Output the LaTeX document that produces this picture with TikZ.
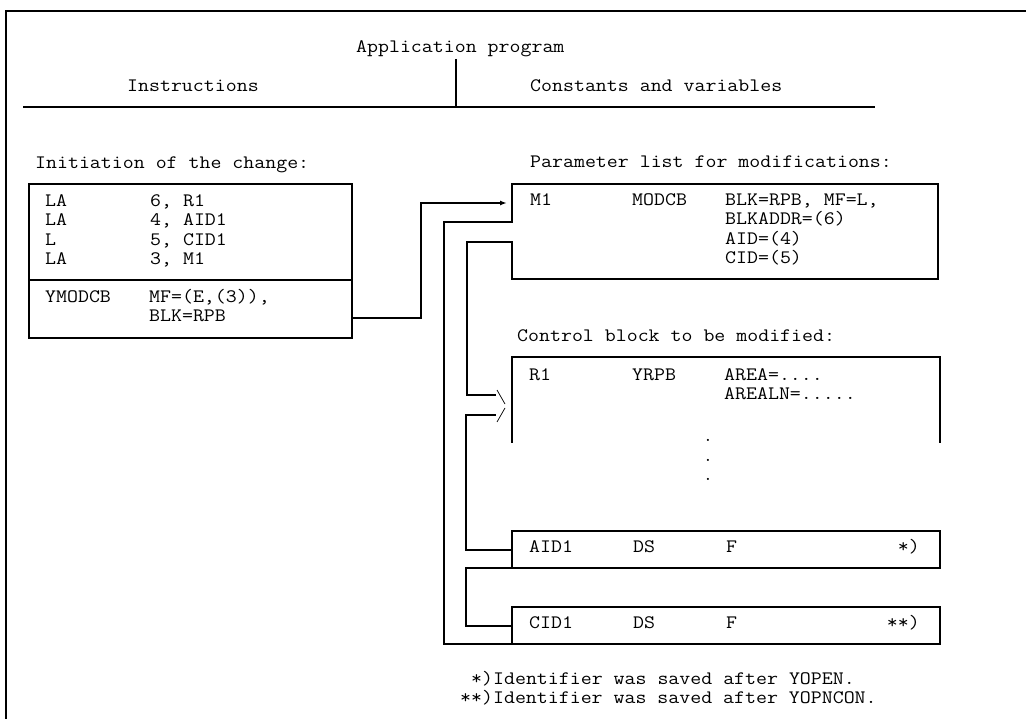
\documentclass[tikz,border=0pt]{standalone}
\usepackage{fontspec}
\usepackage{graphicx}
\usetikzlibrary{arrows.meta}
% typewriter text, widened to a Courier-like pitch
\newcommand\cw[1]{\scalebox{1.12}[1]{#1}}
\tikzset{
  rule/.style={line width=1.6pt},
  boxline/.style={line width=1.5pt, line cap=rect},
  wire/.style={line width=1.5pt, line cap=rect},
  hair/.style={line width=0.7pt},
  mono/.style={inner sep=0pt, anchor=mid west, font=\ttfamily\fontsize{19}{19}\selectfont},
  monor/.style={mono, anchor=mid east},
  dotmark/.style={mono, anchor=base},
}
\begin{document}
\begin{tikzpicture}[x=1pt,y=-1pt]
\useasboundingbox (0,0) rectangle (1026,719);

% outer frame (open at right and bottom)
\draw[rule] (6,719) -- (6,11) -- (1026,11);

% heading
\node[mono] (hdr) at (356,50) {\cw{Application program}};
\coordinate (divtop) at (456,59);
\coordinate (divbot) at (456,107);
\draw[line width=1.1pt] (divtop) -- (divbot);
\draw[rule] (23,107) -- (875,107);
\node[mono] (instr) at (127,89) {\cw{Instructions}};
\node[mono] (cvars) at (530,89) {\cw{Constants and variables}};

% ---------- instructions ----------
\node[mono] (initlbl) at (35,166) {\cw{Initiation of the change:}};
\draw[boxline] (29,184) rectangle (352,338);
\draw[boxline] (29,280) -- (352,280);
\node[mono] (i1a) at (45,204) {\cw{LA}};
\node[mono] (i1b) at (150,204) {\cw{6, R1}};
\node[mono] (i2a) at (45,223) {\cw{LA}};
\node[mono] (i2b) at (150,223) {\cw{4, AID1}};
\node[mono] (i3a) at (45,243) {\cw{L}};
\node[mono] (i3b) at (150,243) {\cw{5, CID1}};
\node[mono] (i4a) at (45,262) {\cw{LA}};
\node[mono] (i4b) at (150,262) {\cw{3, M1}};
\node[mono] (i5a) at (45,300) {\cw{YMODCB}};
\node[mono] (i5b) at (149,300) {\cw{MF=(E,(3)),}};
\node[mono] (i6b) at (149,319) {\cw{BLK=RPB}};
\coordinate (ymodcb out) at (352,318);

% ---------- parameter list ----------
\node[mono] (parlbl) at (530,165) {\cw{Parameter list for modifications:}};
\coordinate (m1 in) at (512,203);
\coordinate (m1 a) at (512,222);
\coordinate (m1 b) at (512,242);
\draw[boxline] (m1 a) -- (512,184) -- (938,184) -- (938,279) -- (512,279) -- (m1 b);
\node[mono] (m1l) at (530,203) {\cw{M1}};
\node[mono] (m1o) at (632,203) {\cw{MODCB}};
\node[mono] (m1p1) at (725,203) {\cw{BLK=RPB, MF=L,}};
\node[mono] (m1p2) at (725,222) {\cw{BLKADDR=(6)}};
\node[mono] (m1p3) at (725,242) {\cw{AID=(4)}};
\node[mono] (m1p4) at (725,261) {\cw{CID=(5)}};

% ---------- control block ----------
\node[mono] (ctllbl) at (517,339) {\cw{Control block to be modified:}};
\draw[boxline] (512,442) -- (512,357) -- (940,357) -- (940,442);
\node[mono] (r1l) at (529,378) {\cw{R1}};
\node[mono] (r1o) at (632,378) {\cw{YRPB}};
\node[mono] (r1p1) at (724,378) {\cw{AREA=....}};
\node[mono] (r1p2) at (724,397) {\cw{AREALN=.....}};
\node[dotmark] (d1) at (708,442) {.};
\node[dotmark] (d2) at (708,461) {.};
\node[dotmark] (d3) at (708,480) {.};
\coordinate (r1 in) at (495,395);
\coordinate (r1 out) at (495,415);
\draw[hair] (497,390) -- (505,404);
\draw[hair] (505,408) -- (497,422);

% ---------- identifier fields ----------
\draw[boxline] (512,531) rectangle (940,568);
\coordinate (aid1 in) at (512,550);
\coordinate (aid1 sw) at (512,568);
\node[mono] (a1l) at (529,550) {\cw{AID1}};
\node[mono] (a1o) at (633,550) {\cw{DS}};
\node[mono] (a1p) at (726,550) {\cw{F}};
\node[monor] (a1n) at (920,550) {\cw{*)}};

\draw[boxline] (512,607) rectangle (940,644);
\coordinate (cid1 in) at (512,626);
\coordinate (cid1 sw) at (512,644);
\node[mono] (c1l) at (529,626) {\cw{CID1}};
\node[mono] (c1o) at (633,626) {\cw{DS}};
\node[mono] (c1p) at (726,626) {\cw{F}};
\node[monor] (c1n) at (920,626) {\cw{**)}};

% ---------- connectors ----------
\draw[wire,-{Latex[length=7pt,width=5pt]}] (ymodcb out) -- ++(69,0) |- ([xshift=-5pt]m1 in);
\draw[wire] (m1 a) -- ++(-68,0) |- (cid1 sw);
\draw[wire] (m1 b) -- ++(-45,0) |- (r1 in);
\draw[wire] (r1 out) -- ++(-29,0) |- (aid1 in);
\draw[wire] (aid1 sw) -- ++(-46,0) |- (cid1 in);

% ---------- footnotes ----------
\node[mono] (fn1) at (471,682) {\cw{*)Identifier was saved after YOPEN.}};
\node[mono] (fn2) at (460,701) {\cw{**)Identifier was saved after YOPNCON.}};
\end{tikzpicture}
\end{document}
